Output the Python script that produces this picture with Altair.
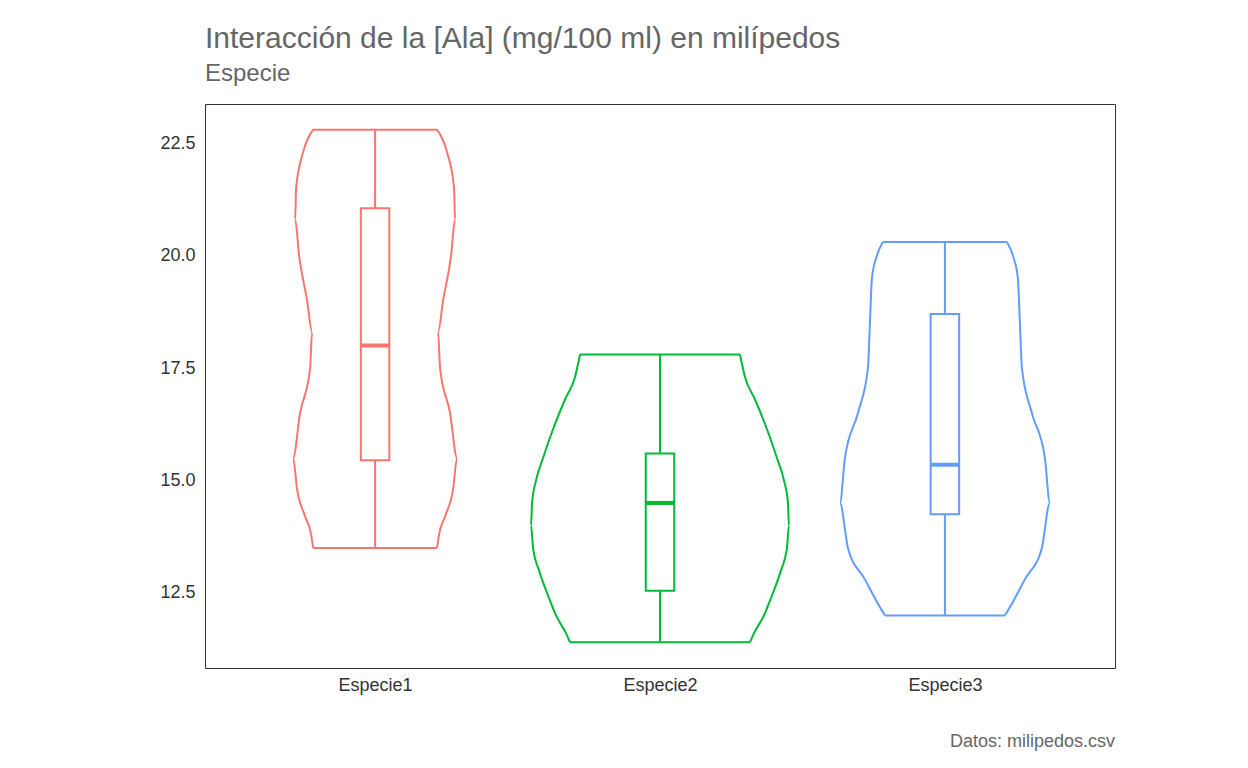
import altair as alt
import pandas as pd

species = ["Especie1", "Especie2", "Especie3"]
colors = ["#F8766D", "#00BA38", "#619CFF"]

# violin half-width profiles (y value, half-width in px of 285px category spacing)
prof1_y = [22.8, 22.3, 21.5, 20.8, 20.0, 19.0, 18.3, 17.5, 16.5, 15.5, 14.8, 14.2, 13.8, 13.5]
prof1_w = [62, 72, 79, 80, 76, 68, 63, 65, 75, 82, 78, 70, 64, 62]
prof2_y = [17.8, 17.3, 16.8, 16.2, 15.5, 15.0, 14.5, 14.0, 13.5, 13.0, 12.5, 12.0, 11.6, 11.4]
prof2_w = [80, 85, 95, 106, 117, 124, 128, 129, 127, 121, 113, 104, 94, 90]
prof3_y = [20.3, 20.0, 19.5, 18.5, 17.5, 16.5, 15.5, 14.5, 13.5, 12.8, 12.3, 12.0]
prof3_w = [62, 68, 73, 75, 77, 87, 100, 105, 97, 80, 68, 60]

q1 = [15.45, 12.55, 14.25]
med = [18.0, 14.5, 15.35]
q3 = [21.05, 15.6, 18.7]
wmin = [13.5, 11.4, 12.0]
wmax = [22.8, 17.8, 20.3]

rows = []
for i, (ys, ws) in enumerate([(prof1_y, prof1_w), (prof2_y, prof2_w), (prof3_y, prof3_w)]):
    c = i + 1
    side = [(c + w / 285, y) for y, w in zip(ys, ws)]
    other = [(c - w / 285, y) for y, w in zip(reversed(ys), reversed(ws))]
    for k, (x, y) in enumerate(side):
        rows.append({"sp": species[i], "part": "r", "x": x, "y": y, "o": k})
    for k, (x, y) in enumerate(other):
        rows.append({"sp": species[i], "part": "l", "x": x, "y": y, "o": k})
vdf = pd.DataFrame(rows)

bdf = pd.DataFrame({"sp": species, "c": [1, 2, 3], "l": [0.95, 1.95, 2.95], "r": [1.05, 2.05, 3.05],
                    "q1": q1, "med": med, "q3": q3, "lo": wmin, "hi": wmax,
                    "vl": [1 - prof1_w[0] / 285, 2 - prof2_w[0] / 285, 3 - prof3_w[0] / 285],
                    "vr": [1 + prof1_w[0] / 285, 2 + prof2_w[0] / 285, 3 + prof3_w[0] / 285],
                    "bl": [1 - prof1_w[-1] / 285, 2 - prof2_w[-1] / 285, 3 - prof3_w[-1] / 285],
                    "br": [1 + prof1_w[-1] / 285, 2 + prof2_w[-1] / 285, 3 + prof3_w[-1] / 285]})

xs = alt.Scale(domain=[0.403, 3.597], nice=False, zero=False)
ys = alt.Scale(domain=[10.83, 23.37], nice=False, zero=False)
col = alt.Color("sp:N", scale=alt.Scale(domain=species, range=colors), legend=None)

xax = alt.Axis(values=[1, 2, 3], labelExpr="'Especie' + datum.value", title=None, grid=False,
               ticks=False, labelPadding=8, domain=False)
yax = alt.Axis(values=[12.5, 15, 17.5, 20, 22.5], format=".1f", title=None, grid=False,
               ticks=False, labelPadding=10, domain=False)

violin = alt.Chart(vdf).mark_line(strokeWidth=2, interpolate="monotone").encode(
    x=alt.X("x:Q", scale=xs, axis=xax), y=alt.Y("y:Q", scale=ys, axis=yax),
    order="o:Q", detail="part:N", color=col)
vtop = alt.Chart(bdf).mark_rule(strokeWidth=2).encode(
    x=alt.X("vl:Q", scale=xs), x2="vr:Q", y=alt.Y("hi:Q", scale=ys), color=col)
vbot = alt.Chart(bdf).mark_rule(strokeWidth=2).encode(
    x=alt.X("bl:Q", scale=xs), x2="br:Q", y=alt.Y("lo:Q", scale=ys), color=col)

whisk = alt.Chart(bdf).mark_rule(strokeWidth=2).encode(
    x=alt.X("c:Q", scale=xs), y=alt.Y("lo:Q", scale=ys), y2="hi:Q", color=col)
box = alt.Chart(bdf).mark_rect(fill="white", strokeWidth=2).encode(
    x=alt.X("l:Q", scale=xs), x2="r:Q", y=alt.Y("q1:Q", scale=ys), y2="q3:Q",
    stroke=alt.Stroke("sp:N", scale=alt.Scale(domain=species, range=colors), legend=None))
median = alt.Chart(bdf).mark_rule(strokeWidth=4).encode(
    x=alt.X("l:Q", scale=xs), x2="r:Q", y=alt.Y("med:Q", scale=ys), color=col)
caption = alt.Chart(pd.DataFrame({"t": ["Datos: milipedos.csv"]})).mark_text(
    align="right", baseline="middle", fontSize=18, color="#666666", font="Liberation Sans").encode(
    text="t:N", x=alt.value(910), y=alt.value(638))

chart = alt.layer(violin, vtop, vbot, whisk, box, median, caption).properties(
    width=910, height=564,
    autosize=alt.AutoSizeParams(type="none"),
    padding={"left": 197, "top": 96, "right": 125, "bottom": 92},
    title=alt.TitleParams("Interacción de la [Ala] (mg/100 ml) en milípedos", subtitle="Especie",
                          anchor="start", frame="group", fontSize=30, subtitleFontSize=24,
                          fontWeight="normal", color="#666666", subtitleColor="#666666",
                          font="Liberation Sans", subtitleFont="Liberation Sans",
                          offset=18, subtitlePadding=8)
).configure_view(stroke="#333333", strokeWidth=1).configure_axis(
    labelFont="Liberation Sans", labelFontSize=18, labelColor="#333333")

chart.save("out.html", embed_options={"renderer": "svg", "actions": False})
